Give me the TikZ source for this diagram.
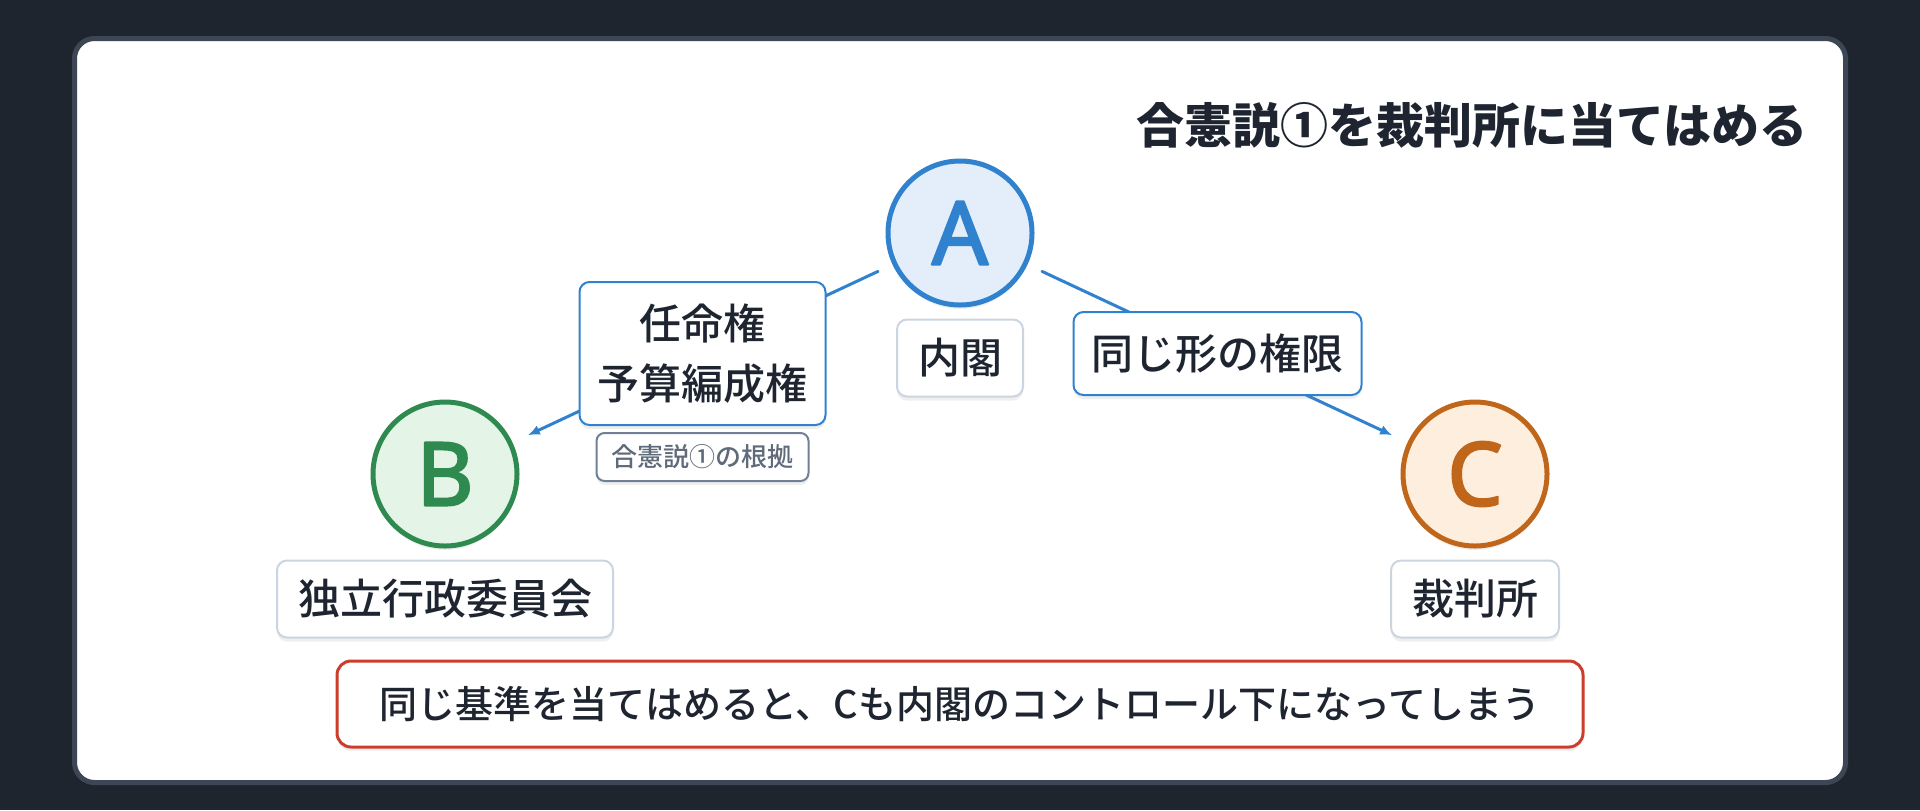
\documentclass[tikz,border=0pt]{standalone}
\usepackage{fontspec}
\usepackage{xcolor}
\usetikzlibrary{arrows.meta,positioning,shadows}
\newfontfamily\jp{Noto Sans CJK JP}
\IfFontExistsTF{Noto Sans CJK JP Medium}
  {\newfontfamily\jpmed{Noto Sans CJK JP Medium}}
  {\newfontfamily\jpmed[FakeBold=1]{Noto Sans CJK JP}}
\newfontfamily\letterfont[FakeBold=2.5]{Noto Sans}

\definecolor{bgdark}{HTML}{1E252F}
\definecolor{cardline}{HTML}{3C4655}
\definecolor{inkdark}{HTML}{1E2530}
\definecolor{ablue}{HTML}{3182CE}
\definecolor{afill}{HTML}{E3EEFA}
\definecolor{bgreen}{HTML}{2F8A4F}
\definecolor{bfill}{HTML}{E4F5E8}
\definecolor{corange}{HTML}{C0661B}
\definecolor{cfill}{HTML}{FDEEDD}
\definecolor{lblline}{HTML}{CBD5E0}
\definecolor{noteline}{HTML}{718096}
\definecolor{notetext}{HTML}{5F6B7A}
\definecolor{warnred}{HTML}{CC3D2B}

\tikzset{
  softshadow/.style={drop shadow={shadow xshift=0pt, shadow yshift=-2pt, opacity=0.12}},
  party/.style={circle, line width=2.5pt, minimum size=72pt, inner sep=0pt,
    font=\letterfont\fontsize{44}{44}\selectfont, softshadow},
  lbl/.style={draw=lblline, fill=white, line width=1pt, rounded corners=5pt,
    minimum height=38.5pt, inner xsep=10.5pt, text=inkdark,
    font=\jpmed\fontsize{21}{30}\selectfont, softshadow},
  power/.style={lbl, draw=ablue, align=center, minimum height=41.5pt, inner xsep=9pt},
  note/.style={draw=noteline, fill=white, line width=1pt, rounded corners=4pt,
    minimum height=24pt, inner xsep=7.5pt, text=notetext,
    font=\jpmed\fontsize{13}{15}\selectfont, softshadow},
  warn/.style={draw=warnred, fill=white, line width=1.5pt, rounded corners=7pt,
    minimum width=623pt, minimum height=43pt, text=inkdark,
    font=\jpmed\fontsize{19}{24}\selectfont, softshadow},
  conn/.style={draw=ablue, line width=1.5pt, -{Latex[length=6pt,width=5pt]},
    shorten <=8pt, shorten >=8.5pt}
}

\begin{document}
\begin{tikzpicture}[line cap=round,line join=round,x=0.5pt,y=-0.5pt]

\useasboundingbox (0,0) rectangle (1920,810);
\fill [bgdark] (0,0) rectangle (1920,810);
\draw [cardline, line width=2.5pt, fill=white, rounded corners=10pt] (74.5,38.5) rectangle (1845.5,782.5);

\node [anchor=east, text=inkdark, font=\jp\bfseries\fontsize{24}{28}\selectfont] (title) at (1815,125) {合憲説①を裁判所に当てはめる};

% three bodies
\node [party, draw=ablue, fill=afill, text=ablue] (A) at (960,233) {A};
\node [party, draw=bgreen, fill=bfill, text=bgreen] (B) at (445,474) {B};
\node [party, draw=corange, fill=cfill, text=corange] (C) at (1475,474) {C};

\node [lbl, below=5.5pt of A] (Alab) {内閣};
\node [lbl, below=5.5pt of B] (Blab) {独立行政委員会};
\node [lbl, below=5.5pt of C] (Clab) {裁判所};

% powers
\draw [conn] (A) -- (B) node [power, midway, minimum height=71.5pt] (AB) {任命権\\予算編成権};
\draw [conn] (A) -- (C) node [power, midway] (AC) {同じ形の権限};
\node [note, below=3pt of AB] (ABnote) {合憲説①の根拠};

\node [warn] (warn) at (960,704) {同じ基準を当てはめると、Cも内閣のコントロール下になってしまう};
\end{tikzpicture}
\end{document}
